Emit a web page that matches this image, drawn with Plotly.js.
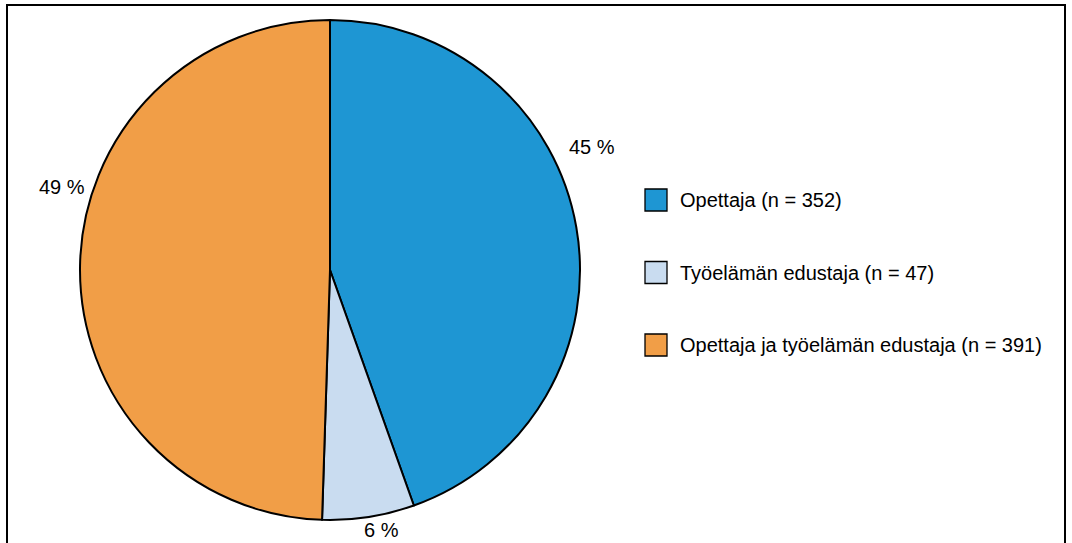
<!DOCTYPE html>
<html>
<head>
<meta charset="utf-8">
<script src="https://cdn.plot.ly/plotly-3.0.1.min.js"></script>
<style>
html,body{margin:0;padding:0;background:#fff;}
#chart{width:1072px;height:543px;}
</style>
</head>
<body>
<div id="chart"></div>
<script>
const categories = ["Opettaja", "Työelämän edustaja", "Opettaja ja työelämän edustaja"];
const counts = [352, 47, 391];
const colors = ["#1e96d3", "#c9dcf0", "#f19e47"];

const W = 1072, H = 543;
const FONT = "'Liberation Sans', Arial, sans-serif";
const total = counts.reduce((a, b) => a + b, 0);
const pctText = counts.map(v => Math.round(v / total * 100) + " %");
const legendText = categories.map((c, i) => c + " (n = " + counts[i] + ")");

const px = x => x / W;
const py = y => 1 - y / H;

// label anchor positions (pixels) for the percent labels
const labelPos = [[592, 147], [381, 530], [62, 187]];

const trace = {
  type: "pie",
  values: counts,
  labels: categories,
  sort: false,
  direction: "clockwise",
  rotation: 0,
  textinfo: "none",
  hoverinfo: "label+value+percent",
  showlegend: false,
  marker: { colors: colors, line: { color: "#000", width: 2 } },
  domain: { x: [px(80), px(580)], y: [py(520), py(20)] }
};

const shapes = [{
  type: "rect", xref: "paper", yref: "paper",
  x0: px(7), x1: px(1065), y0: py(560), y1: py(5),
  line: { color: "#000", width: 2 }, fillcolor: "rgba(0,0,0,0)"
}];
const annotations = [];
const rowY = [200, 272.5, 345];
categories.forEach((c, i) => {
  shapes.push({
    type: "rect", xref: "paper", yref: "paper",
    x0: px(645), x1: px(667), y0: py(rowY[i] + 11), y1: py(rowY[i] - 11),
    fillcolor: colors[i], line: { color: "#000", width: 1.3 }
  });
  annotations.push({
    xref: "paper", yref: "paper", x: px(678), y: py(rowY[i]),
    xanchor: "left", yanchor: "middle", showarrow: false,
    text: legendText[i], font: { family: FONT, size: 20, color: "#000" }
  });
  annotations.push({
    xref: "paper", yref: "paper", x: px(labelPos[i][0]), y: py(labelPos[i][1]),
    xanchor: "center", yanchor: "middle", showarrow: false,
    text: pctText[i], font: { family: FONT, size: 20, color: "#000" }
  });
});

const layout = {
  width: W, height: H,
  margin: { l: 0, r: 0, t: 0, b: 0 },
  paper_bgcolor: "#fff",
  showlegend: false,
  shapes: shapes,
  annotations: annotations
};

Plotly.newPlot("chart", [trace], layout, { displayModeBar: false, staticPlot: true });
</script>
</body>
</html>
